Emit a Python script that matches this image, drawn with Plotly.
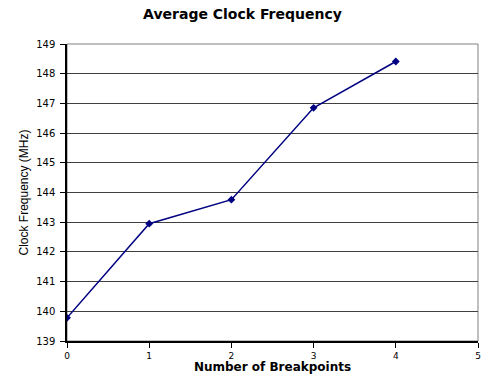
import plotly.graph_objects as go

breakpoints = [0, 1, 2, 3, 4]
clock_mhz = [139.78, 142.95, 143.76, 146.85, 148.41]
x_ticks = [0, 1, 2, 3, 4, 5]
y_ticks = [139, 140, 141, 142, 143, 144, 145, 146, 147, 148, 149]

fig = go.Figure()
fig.add_trace(go.Scatter(
    x=breakpoints, y=clock_mhz, mode="lines+markers",
    line=dict(color="#000080", width=1.5),
    marker=dict(symbol="diamond", size=6, color="#000080"),
    showlegend=False,
))

wide = "DejaVu Sans, Verdana, sans-serif"
narrow = "Liberation Sans, Arial, sans-serif"
fig.update_layout(
    width=485, height=374,
    margin=dict(l=67, r=4, t=44, b=31),
    paper_bgcolor="white", plot_bgcolor="white",
    font=dict(family=wide, size=10, color="black"),
    title=dict(text="<b>Average Clock Frequency</b>", x=0.5, xanchor="center",
               y=1 - 14/374, yanchor="middle", font=dict(size=14, family=wide)),
    shapes=[dict(type="rect", xref="paper", yref="paper", x0=0, x1=1, y0=0, y1=1,
                 line=dict(color="#808080", width=1), layer="below")],
)
fig.update_xaxes(
    range=[0, 5], tickvals=x_ticks, ticks="outside", ticklen=5, tickcolor="black",
    showline=True, linecolor="black", linewidth=1.5, showgrid=False, zeroline=False,
    title=dict(text="<b>Number of Breakpoints</b>", standoff=1, font=dict(size=12, family=wide)),
    tickfont=dict(size=9, family=wide),
)
fig.update_yaxes(
    range=[139, 149], tickvals=y_ticks, ticks="outside", ticklen=5, tickcolor="black",
    ticklabelstandoff=3,
    showline=True, linecolor="black", linewidth=1.5, showgrid=True, gridcolor="#404040",
    gridwidth=1, zeroline=False,
    title=dict(text="Clock Frequency (MHz)", standoff=5, font=dict(size=12, family=narrow)),
    tickfont=dict(size=10, family=wide),
)
fig.write_html("out.html")
